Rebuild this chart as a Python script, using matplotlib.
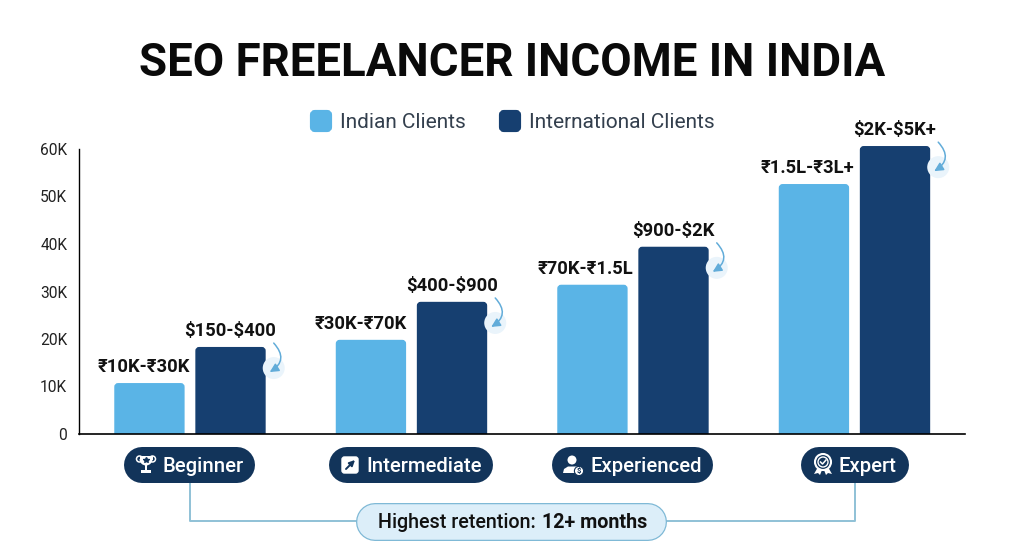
"""SEO freelancer income chart, saved to out.png."""
import matplotlib
matplotlib.use('Agg')
import matplotlib.pyplot as plt
import numpy as np
from matplotlib.patches import (Circle, FancyArrowPatch, FancyBboxPatch,
                                Polygon, Rectangle, Wedge)

plt.rcParams['font.family'] = ['Roboto', 'DejaVu Sans']

# --- data ---
levels = ['Beginner', 'Intermediate', 'Experienced', 'Expert']
indian_values = [10.7, 19.8, 31.4, 52.6]
international_values = [18.3, 27.8, 39.4, 60.6]
indian_labels = ['₹10K-₹30K', '₹30K-₹70K', '₹70K-₹1.5L', '₹1.5L-₹3L+']
international_labels = ['$150-$400', '$400-$900', '$900-$2K', '$2K-$5K+']
y_ticks = [0, 10, 20, 30, 40, 50, 60]
y_tick_labels = ['0', '10K', '20K', '30K', '40K', '50K', '60K']

# --- styles ---
LIGHT = '#5ab4e6'
DARK = '#163f70'
NAVY = '#12345a'
LINE = '#8fc1d6'
BAR_W = 0.32
OFFSET = 0.183
PX_TO_PT = 0.72
indian_shift = [-5, -10, -7, -6]
pill_spans = [(124, 255), (329, 493), (552, 713), (801, 909)]
pill_text_x = [162, 366, 590, 838]
icon_x = [146, 350, 573, 823]

fig = plt.figure(figsize=(10.24, 5.59), dpi=100)

# chart axes: 0 is at pixel row 434, one unit (1K) is 4.75 px
ax_top = 62
ax = fig.add_axes([79 / 1024, (559 - 434) / 559, 886 / 1024, ax_top * 4.75 / 559])
ax.set_xlim(-0.5, 3.5)
ax.set_ylim(0, ax_top)
ax.patch.set_visible(False)
for side in ['top', 'right']:
    ax.spines[side].set_visible(False)
ax.spines['left'].set_bounds(0, 60)
ax.spines['left'].set_linewidth(1.0)
ax.spines['bottom'].set_linewidth(1.2)
ax.set_xticks([])
ax.set_yticks(y_ticks)
ax.set_yticklabels(y_tick_labels, fontsize=11.2, color='#222222')
ax.tick_params(axis='y', length=0, pad=8.5)

# pixel overlay for everything outside the scales
ov = fig.add_axes([0, 0, 1, 1], zorder=3)
ov.set_xlim(0, 1024)
ov.set_ylim(559, 0)
ov.axis('off')


def to_px(x, y):
    """Data position of the chart axes to overlay pixels."""
    fx, fy = ax.transData.transform((x, y))
    return fx * 1024 / fig.bbox.width, 559 - fy * 559 / fig.bbox.height


def rounded_bar(x, value, color):
    ax.add_patch(FancyBboxPatch((x - BAR_W / 2 + 0.006, -2), BAR_W - 0.01, value + 2 - 0.15,
                                boxstyle='round,pad=0,rounding_size=0.0135',
                                mutation_aspect=46.7, facecolor=color, linewidth=1.2,
                                edgecolor=color))


def pill(x0, x1, y, height, color, zorder=2):
    """Fully round ended pill, drawn as a thick line with round caps."""
    r = height / 2
    ov.plot([x0 + r, x1 - r], [y, y], color=color, linewidth=height * PX_TO_PT,
            solid_capstyle='round', zorder=zorder)


positions = np.arange(len(levels))
for i in positions:
    rounded_bar(i - OFFSET, indian_values[i], LIGHT)
    rounded_bar(i + OFFSET, international_values[i], DARK)

    # value labels
    ax.annotate(indian_labels[i], (i - OFFSET, indian_values[i]), xytext=(indian_shift[i], 7),
                textcoords='offset pixels', ha='center', va='bottom', fontsize=13.2,
                fontweight='bold', color='#111111', annotation_clip=False, parse_math=False)
    ax.annotate(international_labels[i], (i + OFFSET, international_values[i]), xytext=(0, 7),
                textcoords='offset pixels', ha='center', va='bottom', fontsize=13.2,
                fontweight='bold', color='#111111', annotation_clip=False, parse_math=False)

    # curved arrow with the soft glow at the right of each dark bar
    rx, ry = to_px(i + OFFSET + BAR_W / 2, international_values[i])
    ov.add_patch(Circle((rx + 8, ry + 21), 11, facecolor='#eaf4fb', edgecolor='none'))
    ov.add_patch(FancyArrowPatch((rx + 8, ry - 4), (rx + 4, ry + 25),
                                 connectionstyle='arc3,rad=-0.6', arrowstyle='-|>',
                                 mutation_scale=13, color='#62acd9', linewidth=1.1,
                                 shrinkA=0, shrinkB=0))

# title and legend
ov.text(512, 62.5, 'SEO FREELANCER INCOME IN INDIA', ha='center', va='center',
        fontsize=32.9, fontweight='bold', color='#0a0a0a')
for x0, color, name in [(310, LIGHT, 'Indian Clients'), (499, DARK, 'International Clients')]:
    ov.add_patch(FancyBboxPatch((x0 + 2, 112), 18, 18, boxstyle='round,pad=0,rounding_size=3',
                                facecolor=color, edgecolor=color, linewidth=3))
    ov.text(x0 + 30, 122, name, ha='left', va='center', fontsize=15, color='#333f4d')

# connector behind the pills
ov.plot([190, 190, 855, 855], [483, 521, 521, 483], color=LINE, linewidth=1.4, zorder=1,
        solid_joinstyle='round')

# level pills
for i, name in enumerate(levels):
    x0, x1 = pill_spans[i]
    pill(x0, x1, 465, 36, NAVY)
    ov.text(pill_text_x[i], 466.5, name, ha='left', va='center', fontsize=14.6,
            fontweight='medium', color='white', zorder=4)

# retention pill
pill(356, 667, 522, 38, '#7fb9d6')
pill(357.5, 665.5, 522, 35.5, '#dceef9', zorder=3)
ov.text(378, 523, 'Highest retention: ', ha='left', va='center', fontsize=14.2,
        fontweight='medium', color='#111111', zorder=4)
ov.text(542, 523, '12+ months', ha='left', va='center', fontsize=14.2, fontweight='bold',
        color='#111111', zorder=4)

# icons
tx = icon_x[0]
ov.add_patch(Wedge((tx, 459), 6.5, 0, 180, facecolor='white', edgecolor='none', zorder=4))
ov.add_patch(Circle((tx - 6.5, 459), 3, fill=False, edgecolor='white', linewidth=1.1, zorder=4))
ov.add_patch(Circle((tx + 6.5, 459), 3, fill=False, edgecolor='white', linewidth=1.1, zorder=4))
ov.add_patch(Rectangle((tx - 6.5, 456), 13, 4, facecolor='white', edgecolor='none', zorder=4))
ov.add_patch(Rectangle((tx - 1, 465), 2, 5, facecolor='white', edgecolor='none', zorder=4))
ov.add_patch(Rectangle((tx - 5, 470), 10, 3, facecolor='white', edgecolor='none', zorder=4))
ov.plot([tx], [460], marker='*', markersize=4, color=NAVY, zorder=5)

ax2 = icon_x[1]
ov.add_patch(FancyBboxPatch((ax2 - 8, 457), 16, 16, boxstyle='round,pad=0,rounding_size=2.5',
                            facecolor='white', edgecolor='white', linewidth=1, zorder=4))
ov.add_patch(FancyArrowPatch((ax2 - 4, 469), (ax2 + 5, 460), arrowstyle='-|>', mutation_scale=8,
                             color=NAVY, linewidth=1.4, shrinkA=0, shrinkB=0, zorder=5))

px = icon_x[2]
ov.add_patch(Circle((px - 1, 460), 4.5, facecolor='white', edgecolor='none', zorder=4))
ov.add_patch(Polygon([(px - 10, 473), (px - 9, 469), (px - 5, 466.5), (px + 4, 466.5),
                      (px + 6, 473)], closed=True, facecolor='white', edgecolor='none', zorder=4))
ov.add_patch(Circle((px + 6, 471), 4.6, facecolor='white', edgecolor=NAVY, linewidth=0.8, zorder=5))
ov.text(px + 6, 471, '$', ha='center', va='center', fontsize=5.5, fontweight='bold', color=NAVY,
        zorder=6, parse_math=False)

rx = icon_x[3]
ov.add_patch(Polygon([(rx - 5, 467), (rx - 9, 474), (rx - 5, 473), (rx - 3, 475), (rx - 1, 470)],
                     closed=True, facecolor='white', edgecolor='none', zorder=4))
ov.add_patch(Polygon([(rx + 5, 467), (rx + 9, 474), (rx + 5, 473), (rx + 3, 475), (rx + 1, 470)],
                     closed=True, facecolor='white', edgecolor='none', zorder=4))
ov.add_patch(Circle((rx, 462), 8, facecolor=NAVY, edgecolor='white', linewidth=1.5, zorder=5))
ov.add_patch(Circle((rx, 462), 5, fill=False, edgecolor='white', linewidth=1.0, zorder=5))
ov.plot([rx - 2.5, rx - 0.5, rx + 3], [462, 464, 460], color='white', linewidth=1.1, zorder=6)

fig.savefig('out.png', dpi=100, facecolor='white')
